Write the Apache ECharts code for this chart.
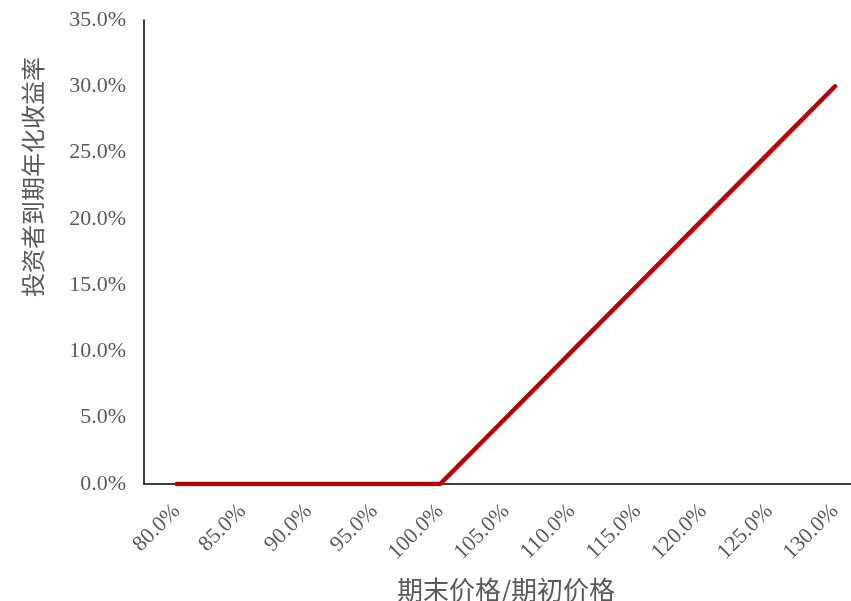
<!DOCTYPE html>
<html>
<head>
<meta charset="utf-8">
<script src="https://cdn.jsdelivr.net/npm/echarts@6/dist/echarts.min.js"></script>
<style>html,body{margin:0;padding:0;background:#fff;overflow:hidden;}#c{width:851px;height:601px;}</style>
</head>
<body>
<div id="c"></div>
<script>
var categories = ['80.0%','85.0%','90.0%','95.0%','100.0%','105.0%','110.0%','115.0%','120.0%','125.0%','130.0%'];
var returns = [0, 0, 0, 0, 0, 5, 10, 15, 20, 25, 30];
var yTicks = {min: 0, max: 35, interval: 5};
var xTitle = '期末价格/期初价格';
var yTitle = '投资者到期年化收益率';

var chart = echarts.init(document.getElementById('c'), null, {renderer: 'canvas', width: 851, height: 601});
var serif = '"Liberation Serif", "Noto Sans CJK SC", serif';
chart.setOption({
  animation: false,
  backgroundColor: '#ffffff',
  grid: {left: 144, top: 20, width: 724, height: 464, containLabel: false, outerBoundsMode: 'none'},
  xAxis: {
    type: 'category',
    data: categories,
    boundaryGap: true,
    axisLine: {lineStyle: {color: '#000', width: 1.5}},
    axisTick: {show: false},
    axisLabel: {rotate: 45, color: '#595959', fontFamily: serif, fontSize: 22, margin: 24, interval: 0},
    name: xTitle,
    nameLocation: 'middle',
    nameGap: 93,
    nameTextStyle: {color: '#595959', fontFamily: '"Noto Sans CJK SC"', fontSize: 26}
  },
  yAxis: {
    type: 'value',
    min: yTicks.min, max: yTicks.max, interval: yTicks.interval,
    axisLine: {show: true, lineStyle: {color: '#000', width: 1.5}},
    axisTick: {show: false},
    splitLine: {show: false},
    axisLabel: {color: '#595959', fontFamily: serif, fontSize: 22, margin: 18,
      formatter: function (v) { return v.toFixed(1) + '%'; }}
  },
  graphic: [{
    type: 'text',
    x: 33, y: 177,
    rotation: Math.PI / 2,
    style: {text: yTitle, fill: '#595959', font: '24px "Noto Sans CJK SC"', textAlign: 'center', textVerticalAlign: 'middle'}
  }],
  series: [{
    type: 'line',
    data: returns,
    showSymbol: false,
    symbol: 'none',
    lineStyle: {color: '#C00000', width: 4.5, cap: 'round', join: 'round'}
  }]
});
</script>
</body>
</html>
